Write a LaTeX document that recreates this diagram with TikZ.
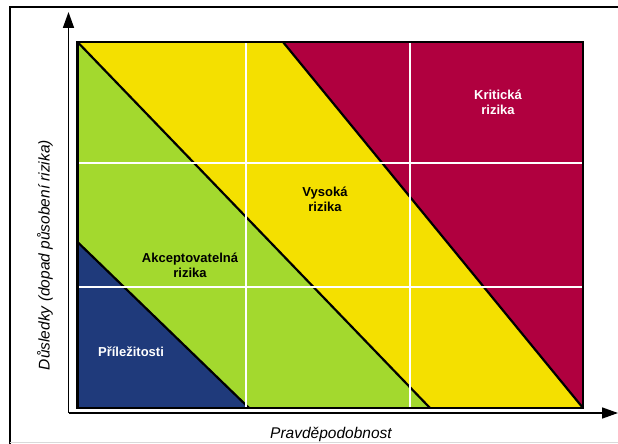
\documentclass[tikz,border=0pt]{standalone}
\usepackage{fontspec}
\setmainfont{Liberation Sans}
\usetikzlibrary{arrows.meta}
\definecolor{critred}{HTML}{B0003F}
\definecolor{highyellow}{HTML}{F4E000}
\definecolor{accgreen}{HTML}{A3D92E}
\definecolor{oppblue}{HTML}{1F3A7B}
\tikzset{
  zoneline/.style={black, line width=2.2pt},
  gridline/.style={white, line width=1.6pt},
  axisline/.style={black, line width=1.6pt, -{Triangle[length=16pt,width=11pt]}},
  zonelabel/.style={font=\bfseries\fontsize{13}{15}\selectfont, align=center, inner sep=0pt},
  axislabel/.style={font=\itshape\fontsize{15.5}{17}\selectfont, inner sep=0pt}
}
\begin{document}
\begin{tikzpicture}[x=1pt, y=-1pt]
  \useasboundingbox (0,0) rectangle (618,444);
  \fill[white] (0,0) rectangle (618,444);
  % outer frame
  \draw[black, line width=2pt] (10,444) -- (10,7.5) -- (620,7.5);
  \draw[black!15, line width=0.8pt] (10,442) -- (620,442);

  % chart corners and zone boundary points
  \coordinate (tl) at (77.5,42);
  \coordinate (tr) at (583,42);
  \coordinate (br) at (583,408);
  \coordinate (bl) at (77.5,408);
  \coordinate (blueL) at (77.5,242);
  \coordinate (blueB) at (249,408);
  \coordinate (greenB) at (430,408);
  \coordinate (redT) at (283,42);

  % zones
  \fill[critred] (tl) rectangle (br);
  \fill[highyellow] (tl) -- (redT) -- (br) -- (greenB) -- cycle;
  \fill[accgreen] (blueL) -- (tl) -- (greenB) -- (blueB) -- cycle;
  \fill[oppblue] (bl) -- (blueL) -- (blueB) -- cycle;

  % zone boundaries
  \draw[zoneline] (blueL) -- (blueB);
  \draw[zoneline] (tl) -- (greenB);
  \draw[zoneline] (redT) -- (br);

  % grid
  \coordinate (g1t) at (246,42);  \coordinate (g1b) at (246,408);
  \coordinate (g2t) at (410,42);  \coordinate (g2b) at (410,408);
  \coordinate (h1l) at (77.5,163); \coordinate (h1r) at (583,163);
  \coordinate (h2l) at (77.5,287); \coordinate (h2r) at (583,287);
  \draw[gridline] (g1t) -- (g1b);
  \draw[gridline] (g2t) -- (g2b);
  \draw[gridline] (h1l) -- (h1r);
  \draw[gridline] (h2l) -- (h2r);

  % chart border
  \draw[black, line width=2.5pt] (tl) rectangle (br);

  % axes
  \coordinate (origin) at (68.5,413);
  \coordinate (ytip) at (68.5,12);
  \coordinate (xtip) at (618,413);
  \draw[axisline] (origin) -- (ytip);
  \draw[axisline] (origin) -- (xtip);

  % labels
  \node[zonelabel, text=white] (crit) at (498,102) {Kritická\\rizika};
  \node[zonelabel] (high) at (325,199) {Vysoká\\rizika};
  \node[zonelabel] (acc) at (190,265) {Akceptovatelná\\rizika};
  \node[zonelabel, text=white] (opp) at (131,352) {Příležitosti};
  \node[axislabel] (xlab) at (331,434) {Pravděpodobnost};
  \node[axislabel, rotate=90] (ylab) at (45,255) {Důsledky (dopad působení rizika)};
\end{tikzpicture}
\end{document}
